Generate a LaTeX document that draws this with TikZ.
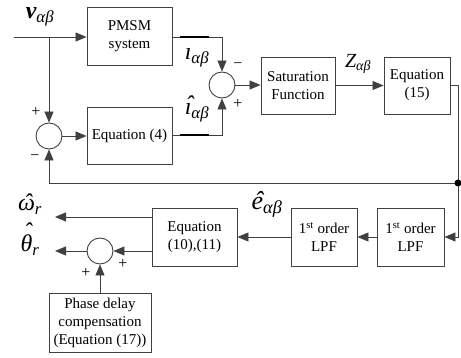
\documentclass[tikz,border=0pt]{standalone}
\usepackage{fontspec}
\setmainfont{Liberation Serif}
\usetikzlibrary{arrows.meta}
\newcommand\myhat[2][0pt]{\ooalign{#2\cr\hidewidth\raisebox{#1}{\kern0.12em\char"02C6}\hidewidth\cr}}
\begin{document}
\begin{tikzpicture}[x=1pt,y=-1pt,
  line width=0.8pt,
  every node/.style={font=\fontsize{15}{18}\selectfont},
  blk/.style={draw=black!75,line width=0.9pt,minimum height=57pt,align=center,inner sep=0pt},
  sumc/.style={draw=black!75,line width=0.9pt,circle,minimum size=26pt,inner sep=0pt},
  arr/.style={draw=black!75,-{Triangle[length=11pt,width=9pt]}},
  ln/.style={draw=black!75},
  sgn/.style={font=\fontsize{16}{16}\selectfont,inner sep=0pt},
  lab/.style={font=\fontsize{24}{24}\selectfont\itshape,inner sep=0pt}]
\useasboundingbox (0,0) rectangle (461,358);
% blocks
\node[blk,minimum width=85pt,minimum height=58pt] (pmsm) at (129.5,36) {PMSM\\system};
\node[blk,minimum width=85pt] (eq4) at (129.5,135.5) {Equation (4)};
\node[sumc] (s1) at (222,85) {};
\node[sumc] (s2) at (49,136) {};
\node[blk,minimum width=74pt] (sat) at (298,85.5) {Saturation\\Function};
\node[blk,minimum width=66pt] (eq15) at (417,85.5) {Equation\\(15)};
\node[blk,minimum width=67pt,minimum height=58pt] (lpfa) at (410.5,237) {1\textsuperscript{st} order\\LPF};
\node[blk,minimum width=66pt,minimum height=58pt] (lpfb) at (324,237) {1\textsuperscript{st} order\\LPF};
\node[blk,minimum width=85pt,minimum height=58pt] (eq1011) at (194.5,237) {Equation\\(10),(11)};
\node[sumc] (s3) at (100,251) {};
\node[blk,minimum width=102pt,minimum height=59pt] (phase) at (100,322.5) {Phase delay\\compensation\\(Equation (17))};
% coordinates
\coordinate (vin) at (14,37);
\coordinate (br) at (49,37);
\coordinate (c1) at (222,37);
\coordinate (c2) at (222,135);
\coordinate (c3) at (458,85);
\coordinate (fb) at (458,183);
\coordinate (c4) at (458,237);
\coordinate (c5) at (49,183);
\coordinate (wout) at (55,217);
\coordinate (tout) at (55,251);
% connectors
\draw[arr] (vin) -- (pmsm.west |- vin);
\draw[arr] (br) -- (s2.north);
\draw[arr] (pmsm.east |- c1) -- (c1) -- (s1.north);
\draw[arr] (eq4.east |- c2) -- (c2) -- (s1.south);
\draw[line width=2pt,black] (180,37) -- (209,37);
\draw[line width=2pt,black] (180,135) -- (209,135);
\draw[arr] (s2.east) -- (eq4.west |- s2.east);
\draw[arr] (s1.east) -- (sat.west |- s1.east);
\draw[arr] (sat.east) -- (eq15.west);
\draw[arr] (eq15.east |- c3) -- (c3) -- (c4) -- (lpfa.east |- c4);
\draw[arr] (fb) -- (c5) -- (s2.south);
\fill[black] (fb) circle (3.5pt);
\draw[arr] (lpfa.west) -- (lpfb.east);
\draw[arr] (lpfb.west) -- (eq1011.east);
\draw[arr] (eq1011.west |- wout) -- (wout);
\draw[arr] (eq1011.west |- s3.east) -- (s3.east);
\draw[arr] (s3.west) -- (tout);
\draw[arr] (phase.north) -- (s3.south);
% signs
\node[sgn] (m1) at (238,66) {−};
\node[sgn] (p1) at (238,104) {+};
\node[sgn] (p2) at (36,112) {+};
\node[sgn] (m2) at (35,158) {−};
\node[sgn] (p3) at (123,264) {+};
\node[sgn] (p4) at (86,273) {+};
% labels
\node[lab] (lv) at (40,17) {\textbf{v}\textsubscript{αβ}};
\node[lab] (li) at (197,58) {\i\textsubscript{αβ}};
\node[lab] (lih) at (197,113) {\myhat[0.1em]{\i}\textsubscript{αβ}};
\node[lab,font=\fontsize{20}{20}\selectfont\itshape] (lz) at (358,64) {Z\textsubscript{αβ}};
\node[lab,font=\fontsize{26}{26}\selectfont\itshape] (le) at (267,207) {\myhat{e}\textsubscript{αβ}};
\node[lab] (lw) at (30,207) {\myhat{ω}\textsubscript{r}};
\node[lab] (lt) at (30,245) {\myhat[0.5em]{θ}\textsubscript{r}};
\end{tikzpicture}
\end{document}
